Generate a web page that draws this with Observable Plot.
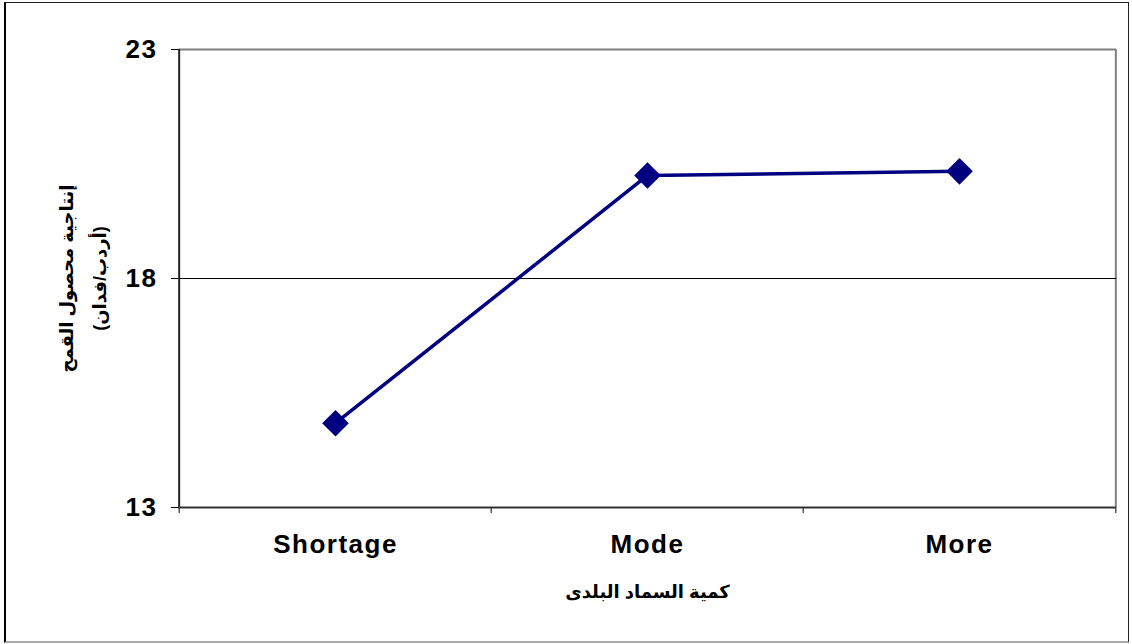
<!DOCTYPE html>
<html><head><meta charset="utf-8">
<script src="https://cdn.jsdelivr.net/npm/d3@7"></script>
<script src="https://cdn.jsdelivr.net/npm/@observablehq/plot@0.6"></script>
<style>
body{margin:0;background:#fff;}
#wrap{position:relative;width:1132px;height:644px;overflow:hidden;}
#wrap svg{position:absolute;left:0;top:0;}
#frame{position:absolute;left:4px;top:2px;width:1122px;height:638px;border-left:2px solid #000;border-top:1px solid #222;border-right:1px solid #222;border-bottom:2px solid #aaa;pointer-events:none;}
</style></head><body><div id="wrap"><div id="frame"></div></div>
<script>
const categories = ["Shortage", "Mode", "More"];
const yields = [14.84, 20.25, 20.34];
const yTicks = [13, 18, 23];
const xTitle = "كمية السماد البلدى";
const yTitle = ["إنتاجية محصول القمح", "(أردب/فدان)"];

const data = categories.map((c, i) => ({cat: c, value: yields[i]}));

const W = 1132, H = 644, mL = 178, mR = 16, mT = 49, mB = 137;
const step = (W - mL - mR) / categories.length;
const last = categories[categories.length - 1];

const chart = Plot.plot({
  width: W, height: H,
  marginLeft: mL, marginRight: mR, marginTop: mT, marginBottom: mB,
  style: {fontFamily: "'Liberation Sans', Arial, 'DejaVu Sans', sans-serif", fontWeight: "bold", fontSize: "26px", color: "#000", background: "transparent", overflow: "visible", letterSpacing: "1.5px"},
  x: {type: "point", domain: categories, padding: 0.5},
  y: {domain: [13, 23]},
  marks: [
    Plot.ruleY([23], {stroke: "#808080", strokeWidth: 2}),
    Plot.ruleX([last], {dx: step / 2, stroke: "#808080", strokeWidth: 2}),
    Plot.ruleY([18], {stroke: "#000", strokeWidth: 1}),
    Plot.ruleX(categories, {x: d => d, dx: -step / 2, y1: 13, y2: 13, insetBottom: -6, stroke: "#000", strokeWidth: 1}),
    Plot.ruleX([last], {x: d => d, dx: step / 2, y1: 13, y2: 13, insetBottom: -6, stroke: "#000", strokeWidth: 1}),
    Plot.ruleX([categories[0]], {dx: -step / 2, stroke: "#222", strokeWidth: 2}),
    Plot.ruleY([13], {stroke: "#333", strokeWidth: 2}),
    Plot.axisY(yTicks, {tickSize: 7, tickPadding: 14, label: null, fontWeight: "bold", fontSize: 26, fill: "#000"}),
    Plot.axisX({tickSize: 0, tickPadding: 27, label: null, fontWeight: "bold", fontSize: 26, fill: "#000"}),
    Plot.line(data, {x: "cat", y: "value", stroke: "#000080", strokeWidth: 3.5}),
    Plot.dot(data, {x: "cat", y: "value", symbol: "diamond2", r: 12, fill: "#000080", stroke: "none"}),
    Plot.text([yTitle.join("\n")], {frameAnchor: "left", textAnchor: "middle", dx: -99.5, rotate: -90, lineHeight: 1.8, fontSize: 18, fontWeight: "bold", lineAnchor: "middle", letterSpacing: 0, fill: "#000"}),
    Plot.text([xTitle], {frameAnchor: "bottom", textAnchor: "middle", dy: 85, fontSize: 18, fontWeight: "bold", lineAnchor: "middle", letterSpacing: 0, fill: "#000"})
  ]
});
document.getElementById("wrap").insertBefore(chart, document.getElementById("frame"));
</script>
</body></html>
